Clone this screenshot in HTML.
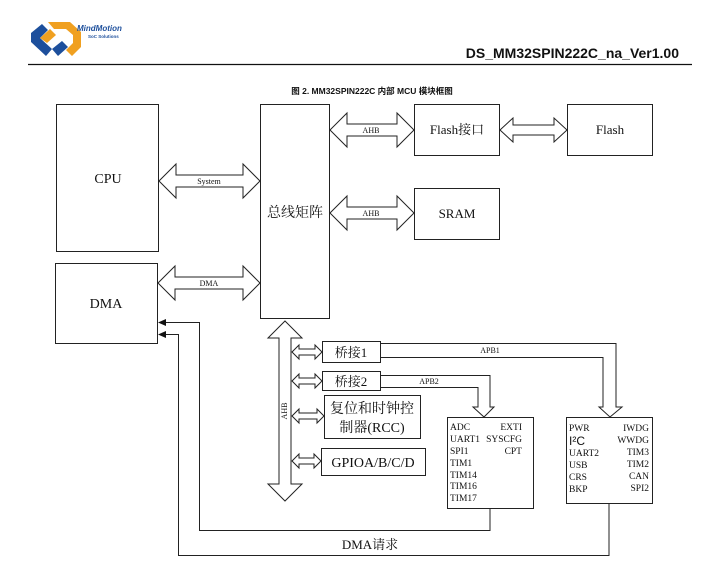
<!DOCTYPE html>
<html><head><meta charset="utf-8"><style>
body{margin:0;background:#fff;}
svg{display:block;}
text{font-family:"Liberation Serif","Noto Serif CJK SC",serif;fill:#111;}
.s{font-family:"Liberation Sans","Noto Sans CJK SC",sans-serif;}
</style></head><body>
<svg width="723" height="579" viewBox="0 0 723 579" xmlns="http://www.w3.org/2000/svg">
<defs>
<marker id="ar" markerWidth="8" markerHeight="8" refX="7" refY="4" orient="auto" markerUnits="userSpaceOnUse"><path d="M0,0 L8,4 L0,8 z" fill="#111"/></marker>
</defs>
<!-- logo -->
<path d="M31,33 L42,24 L48,30 L40,38 L52,49 L46,56 L31,42 z" fill="#1d4f9c"/>
<path d="M52,49 L62,41 L68,47 L58,56 z" fill="#1d4f9c"/>
<path d="M48,22 L70,22 L81,32 L81,47 L72,56 L66,50 L73,43 L73,35 L66,29 L54,29 z" fill="#f0a020"/>
<path d="M40,38 L50,29 L56,35 L47,43z" fill="#f0a020"/>
<text x="77" y="31" class="s" font-size="8" font-weight="bold" font-style="italic" fill="#1d4f9c" style="fill:#1d4f9c">MindMotion</text>
<text x="88" y="38" class="s" font-size="4.5" font-weight="bold" style="fill:#1d4f9c">SoC Solutions</text>
<text x="679" y="58" class="s" font-size="14" font-weight="bold" text-anchor="end">DS_MM32SPIN222C_na_Ver1.00</text>
<line x1="28" y1="64.5" x2="692" y2="64.5" stroke="#111" stroke-width="1.2"/>
<text x="372" y="94" class="s" font-size="8.5" font-weight="bold" text-anchor="middle">图 2.   MM32SPIN222C 内部 MCU 模块框图</text>

<g fill="none" stroke="#222" stroke-width="1">
<rect x="56.5" y="104.5" width="102" height="147"/>
<rect x="55.5" y="263.5" width="102" height="80"/>
<rect x="260.5" y="104.5" width="69" height="214"/>
<rect x="414.5" y="104.5" width="85" height="51"/>
<rect x="567.5" y="104.5" width="85" height="51"/>
<rect x="414.5" y="188.5" width="85" height="51"/>
<rect x="322.5" y="341.5" width="58" height="21"/>
<rect x="322.5" y="371.5" width="58" height="19"/>
<rect x="324.5" y="395.5" width="96" height="43"/>
<rect x="321.5" y="448.5" width="104" height="27"/>
<rect x="447.5" y="417.5" width="86" height="91"/>
<rect x="566.5" y="417.5" width="86" height="86"/>
<!-- horizontal double arrows -->
<path d="M159,181 L176,164 L176,175 L243,175 L243,164 L260,181 L243,198 L243,187 L176,187 L176,198 Z"/>
<path d="M158,283 L175,266 L175,277 L243,277 L243,266 L260,283 L243,300 L243,289 L175,289 L175,300 Z"/>
<path d="M330,130 L347,113 L347,124 L397,124 L397,113 L414,130 L397,147 L397,136 L347,136 L347,147 Z"/>
<path d="M330,213 L347,196 L347,207 L397,207 L397,196 L414,213 L397,230 L397,219 L347,219 L347,230 Z"/>
<path d="M500,130 L513,118 L513,125 L554,125 L554,118 L567,130 L554,142 L554,135 L513,135 L513,142 Z"/>
<!-- vertical AHB -->
<path d="M285,321 L302,338 L291,338 L291,484 L302,484 L285,501 L268,484 L279,484 L279,338 L268,338 Z"/>
<!-- small arrows -->
<path d="M292,352 L299,345 L299,349 L315,349 L315,345 L322,352 L315,359 L315,355 L299,355 L299,359 Z"/>
<path d="M292,381 L299,374 L299,378 L315,378 L315,374 L322,381 L315,388 L315,384 L299,384 L299,388 Z"/>
<path d="M292,416 L299,409 L299,413 L317,413 L317,409 L324,416 L317,423 L317,419 L299,419 L299,423 Z"/>
<path d="M292,461 L299,454 L299,458 L314,458 L314,454 L321,461 L314,468 L314,464 L299,464 L299,468 Z"/>
<!-- APB1 -->
<path d="M381,343.5 L616,343.5 L616,407 L622,407 L610,417 L599,407 L603,407 L603,357.5 L381,357.5"/>
<!-- APB2 -->
<path d="M381,375.5 L490,375.5 L490,407 L494,407 L484,417 L473,407 L478,407 L478,387.5 L381,387.5"/>
<!-- DMA request lines -->
<path d="M490,509 L490,530.5 L199.5,530.5 L199.5,322.5 L165,322.5"/>
<path d="M609,504 L609,555.5 L178.5,555.5 L178.5,334.5 L165,334.5"/>
</g>
<path d="M158,322.5 L166,319 L166,326 z" fill="#111"/>
<path d="M158,334.5 L166,331 L166,338 z" fill="#111"/>

<text x="108" y="183" font-size="14" text-anchor="middle">CPU</text>
<text x="106" y="308" font-size="14" text-anchor="middle">DMA</text>
<text x="295" y="217" font-size="14" text-anchor="middle">总线矩阵</text>
<text x="209" y="184" font-size="8" text-anchor="middle">System</text>
<text x="209" y="286" font-size="8" text-anchor="middle">DMA</text>
<text x="371" y="133" font-size="8" text-anchor="middle">AHB</text>
<text x="371" y="216" font-size="8" text-anchor="middle">AHB</text>
<text x="457" y="134" font-size="13" text-anchor="middle">Flash接口</text>
<text x="610" y="134" font-size="13" text-anchor="middle">Flash</text>
<text x="457" y="218" font-size="13" text-anchor="middle">SRAM</text>
<text x="351" y="357" font-size="13" text-anchor="middle">桥接1</text>
<text x="351" y="386" font-size="13" text-anchor="middle">桥接2</text>
<text x="372" y="413" font-size="14" text-anchor="middle">复位和时钟控</text>
<text x="372" y="432" font-size="14" text-anchor="middle">制器(RCC)</text>
<text x="373" y="467" font-size="14" text-anchor="middle">GPIOA/B/C/D</text>
<text x="490" y="353" font-size="8" text-anchor="middle">APB1</text>
<text x="429" y="384" font-size="8" text-anchor="middle">APB2</text>
<text x="287" y="411" font-size="8" text-anchor="middle" transform="rotate(-90 287 411)">AHB</text>
<text x="370" y="549" font-size="13" text-anchor="middle">DMA请求</text>
<g font-size="9.5">
<text x="450" y="430">ADC</text><text x="450" y="442">UART1</text><text x="450" y="454">SPI1</text><text x="450" y="466">TIM1</text><text x="450" y="478">TIM14</text><text x="450" y="489">TIM16</text><text x="450" y="501">TIM17</text>
<text x="522" y="430" text-anchor="end">EXTI</text><text x="522" y="442" text-anchor="end">SYSCFG</text><text x="522" y="454" text-anchor="end">CPT</text>
<text x="569" y="431">PWR</text><text x="569" y="456">UART2</text><text x="569" y="468">USB</text><text x="569" y="480">CRS</text><text x="569" y="492">BKP</text>
<text x="649" y="431" text-anchor="end">IWDG</text><text x="649" y="443" text-anchor="end">WWDG</text><text x="649" y="455" text-anchor="end">TIM3</text><text x="649" y="467" text-anchor="end">TIM2</text><text x="649" y="479" text-anchor="end">CAN</text><text x="649" y="491" text-anchor="end">SPI2</text>
</g>
<text x="569" y="445" class="s" font-size="12">I²C</text>
</svg>
</body></html>
